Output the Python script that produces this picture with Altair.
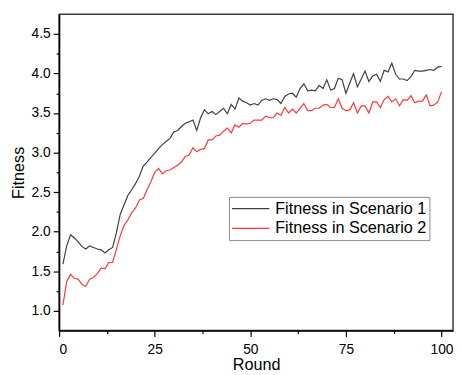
import altair as alt
import pandas as pd

rounds = list(range(1, 101))

scenario1 = [
    1.59, 1.82, 1.96, 1.92, 1.87, 1.81, 1.78, 1.82, 1.80, 1.78,
    1.77, 1.73, 1.77, 1.80, 1.99, 2.22, 2.34, 2.46, 2.53, 2.61,
    2.70, 2.83, 2.88, 2.94, 2.99, 3.05, 3.10, 3.14, 3.18, 3.26,
    3.28, 3.33, 3.37, 3.39, 3.41, 3.28, 3.44, 3.54, 3.49, 3.52,
    3.48, 3.52, 3.56, 3.49, 3.61, 3.55, 3.69, 3.65, 3.63, 3.60,
    3.62, 3.60, 3.66, 3.68, 3.66, 3.68, 3.67, 3.62, 3.71, 3.74,
    3.75, 3.70, 3.81, 3.87, 3.78, 3.79, 3.78, 3.85, 3.81, 3.92,
    3.79, 3.81, 3.94, 3.92, 3.75, 3.88, 4.00, 3.83, 3.93, 4.03,
    3.90, 3.97, 3.99, 3.90, 4.04, 4.02, 4.13, 3.99, 3.93, 3.93,
    3.91, 3.96, 4.04, 4.03, 4.03, 4.04, 4.05, 4.04, 4.08, 4.09,
]

scenario2 = [
    1.07, 1.37, 1.46, 1.41, 1.40, 1.33, 1.31, 1.40, 1.42, 1.47,
    1.54, 1.53, 1.61, 1.61, 1.78, 1.95, 2.08, 2.15, 2.24, 2.30,
    2.40, 2.42, 2.53, 2.63, 2.75, 2.80, 2.73, 2.77, 2.78, 2.81,
    2.84, 2.88, 2.95, 2.97, 3.06, 3.01, 3.04, 3.05, 3.16, 3.16,
    3.21, 3.22, 3.27, 3.31, 3.25, 3.35, 3.32, 3.37, 3.36, 3.37,
    3.41, 3.41, 3.41, 3.46, 3.44, 3.44, 3.50, 3.47, 3.57, 3.50,
    3.55, 3.50, 3.56, 3.62, 3.53, 3.53, 3.56, 3.56, 3.60, 3.61,
    3.57, 3.57, 3.68, 3.56, 3.53, 3.54, 3.63, 3.50, 3.59, 3.59,
    3.50, 3.64, 3.64, 3.57, 3.67, 3.71, 3.64, 3.68, 3.59, 3.67,
    3.66, 3.72, 3.63, 3.65, 3.65, 3.73, 3.59, 3.60, 3.64, 3.77,
]

series_names = ["Fitness in Scenario 1", "Fitness in Scenario 2"]
series_colors = ["#3f3f3f", "#ff3838"]

x_ticks = [0, 12.5, 25, 37.5, 50, 62.5, 75, 87.5, 100]
y_ticks = [1.0, 1.25, 1.5, 1.75, 2.0, 2.25, 2.5, 2.75, 3.0, 3.25,
           3.5, 3.75, 4.0, 4.25, 4.5]

df = pd.DataFrame({
    "Round": rounds + rounds,
    "Fitness": scenario1 + scenario2,
    "Series": [series_names[0]] * len(rounds) + [series_names[1]] * len(rounds),
})

FONT = "Liberation Sans"

x_axis = alt.Axis(
    values=x_ticks,
    labelExpr="datum.value % 25 == 0 ? format(datum.value, 'd') : ''",
    tickSize={"condition": {"test": "datum.value % 25 != 0", "value": 3}, "value": 6},
    labelFontSize=14,
    labelPadding=6,
    titleFontSize=16.5,
    titlePadding=1,
    grid=False,
)

y_axis = alt.Axis(
    values=y_ticks,
    labelExpr="round(datum.value * 4) % 2 == 0 ? format(datum.value, '.1f') : ''",
    tickSize={"condition": {"test": "round(datum.value * 4) % 2 != 0", "value": 3}, "value": 6},
    labelFontSize=14,
    labelPadding=3,
    titleFontSize=16.5,
    titlePadding=5,
    grid=False,
)

chart = alt.Chart(df).mark_line(strokeWidth=1.2).encode(
    x=alt.X("Round:Q", scale=alt.Scale(domain=[0, 103], nice=False, zero=False), axis=x_axis, title="Round"),
    y=alt.Y("Fitness:Q", scale=alt.Scale(domain=[0.75, 4.75], nice=False, zero=False), axis=y_axis, title="Fitness"),
    color=alt.Color(
        "Series:N",
        scale=alt.Scale(domain=series_names, range=series_colors),
        legend=alt.Legend(
            title=None,
            orient="none",
            legendX=173,
            legendY=186,
            symbolType="stroke",
            symbolSize=1444,
            symbolStrokeWidth=1.2,
            clipHeight=20,
            labelFontSize=16.5,
            labelFont=FONT,
            labelColor="#000000",
            labelOffset=5,
            labelLimit=400,
            padding=2,
            rowPadding=0,
            strokeColor="#8a8a8a",
            fillColor="white",
        ),
    ),
    order=alt.Order("Round:Q"),
).properties(
    width=401,
    height=322,
    autosize=alt.AutoSizeParams(type="none"),
    padding={"left": 52, "top": 3, "right": 1, "bottom": 41},
).configure(
    font=FONT,
).configure_view(
    stroke="#3a3a3a",
    strokeWidth=1.5,
).configure_axis(
    domainColor="#000000",
    domainWidth=1.5,
    tickColor="#000000",
    tickWidth=1.2,
    labelColor="#000000",
    titleColor="#000000",
    labelFont=FONT,
    titleFont=FONT,
    titleFontWeight="normal",
)

chart.save("out.html", embed_options={"renderer": "svg", "actions": False})
